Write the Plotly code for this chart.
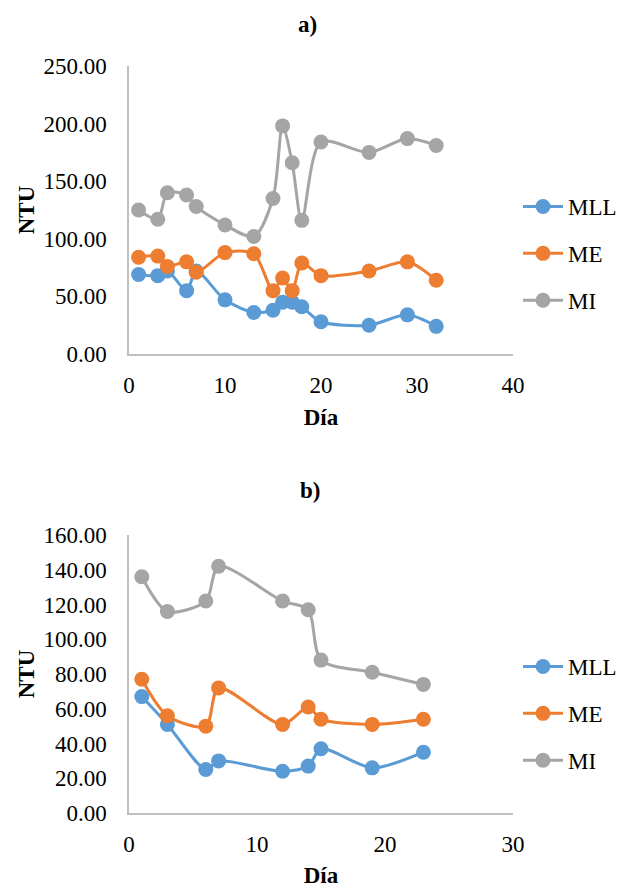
import plotly.graph_objects as go

# ---- data panel a ----
dias_a = [1, 3, 4, 6, 7, 10, 13, 15, 16, 17, 18, 20, 25, 29, 32]
mll_a = [69, 68, 72, 55, 72, 47, 36, 38, 45, 45, 41, 28, 25, 34, 24]
me_a = [84, 85, 76, 80, 71, 88, 87, 55, 66, 55, 79, 68, 72, 80, 64]
mi_a = [125, 117, 140, 138, 128, 112, 102, 135, 198, 166, 116, 184, 175, 187, 181]

# ---- data panel b ----
dias_b = [1, 3, 6, 7, 12, 14, 15, 19, 23]
mll_b = [67, 51, 25, 30, 24, 27, 37, 26, 35]
me_b = [77, 56, 50, 72, 51, 61, 54, 51, 54]
mi_b = [136, 116, 122, 142, 122, 117, 88, 81, 74]

names = ["MLL", "ME", "MI"]
colors = ["#5B9BD5", "#ED7D31", "#A5A5A5"]

W, H = 622, 888
FONT = "Liberation Serif"
FS = 23

fig = go.Figure()

for i, (nm, ys) in enumerate(zip(names, [mll_a, me_a, mi_a])):
    fig.add_trace(go.Scatter(
        x=dias_a, y=ys, name=nm, mode="lines+markers",
        line=dict(color=colors[i], width=3, shape="spline", smoothing=0.8),
        marker=dict(color=colors[i], size=15),
        xaxis="x", yaxis="y", legend="legend", legendgroup="a" + nm,
    ))
for i, (nm, ys) in enumerate(zip(names, [mll_b, me_b, mi_b])):
    fig.add_trace(go.Scatter(
        x=dias_b, y=ys, name=nm, mode="lines+markers",
        line=dict(color=colors[i], width=3, shape="spline", smoothing=0.8),
        marker=dict(color=colors[i], size=15),
        xaxis="x2", yaxis="y2", legend="legend2", legendgroup="b" + nm,
    ))

def px_x(x):
    return x / W

def px_y(y):
    return 1 - y / H

xdom = [px_x(129), px_x(513)]
axis_common = dict(
    showgrid=False, zeroline=False, showline=True, linecolor="#BFBFBF",
    linewidth=1.5, ticks="", automargin=False,
    tickfont=dict(family=FONT, size=FS, color="black"),
)
title_font = dict(family=FONT, size=FS, color="black")

fig.update_layout(
    template="none",
    width=W, height=H,
    margin=dict(l=0, r=0, t=0, b=0, autoexpand=False),
    paper_bgcolor="white", plot_bgcolor="white",
    font=dict(family=FONT, color="black"),
    showlegend=True,
    xaxis=dict(domain=xdom, anchor="y", range=[0, 40], dtick=10,
               title=dict(text="<b>Día</b>", font=title_font, standoff=12),
               ticklabelstandoff=10, **axis_common),
    yaxis=dict(domain=[px_y(354), px_y(66)], anchor="x", range=[0, 250], dtick=50,
               tickformat=".2f",
               title=dict(text="<b>NTU</b>", font=title_font, standoff=2),
               ticklabelstandoff=16, **axis_common),
    xaxis2=dict(domain=xdom, anchor="y2", range=[0, 30], dtick=10,
                title=dict(text="<b>Día</b>", font=title_font, standoff=12),
                ticklabelstandoff=10, **axis_common),
    yaxis2=dict(domain=[px_y(813), px_y(535)], anchor="x2", range=[0, 160], dtick=20,
                tickformat=".2f",
                title=dict(text="<b>NTU</b>", font=title_font, standoff=2),
                ticklabelstandoff=16, **axis_common),
    legend=dict(x=px_x(518), y=px_y(185), xanchor="left", yanchor="top",
                font=dict(family=FONT, size=FS), tracegroupgap=14,
                bgcolor="rgba(0,0,0,0)", itemwidth=40),
    legend2=dict(x=px_x(518), y=px_y(645), xanchor="left", yanchor="top",
                 font=dict(family=FONT, size=FS), tracegroupgap=14,
                 bgcolor="rgba(0,0,0,0)", itemwidth=40),
    annotations=[
        dict(text="<b>a)</b>", x=px_x(307), y=px_y(25), xref="paper", yref="paper",
             xanchor="center", yanchor="middle", showarrow=False, font=title_font),
        dict(text="<b>b)</b>", x=px_x(310), y=px_y(490), xref="paper", yref="paper",
             xanchor="center", yanchor="middle", showarrow=False, font=title_font),
    ],
)

fig.write_html(
    "out.html",
    config={"displayModeBar": False},
    post_script="document.body.style.margin='0';document.body.style.padding='0';"
                "document.body.style.overflow='hidden';",
)
